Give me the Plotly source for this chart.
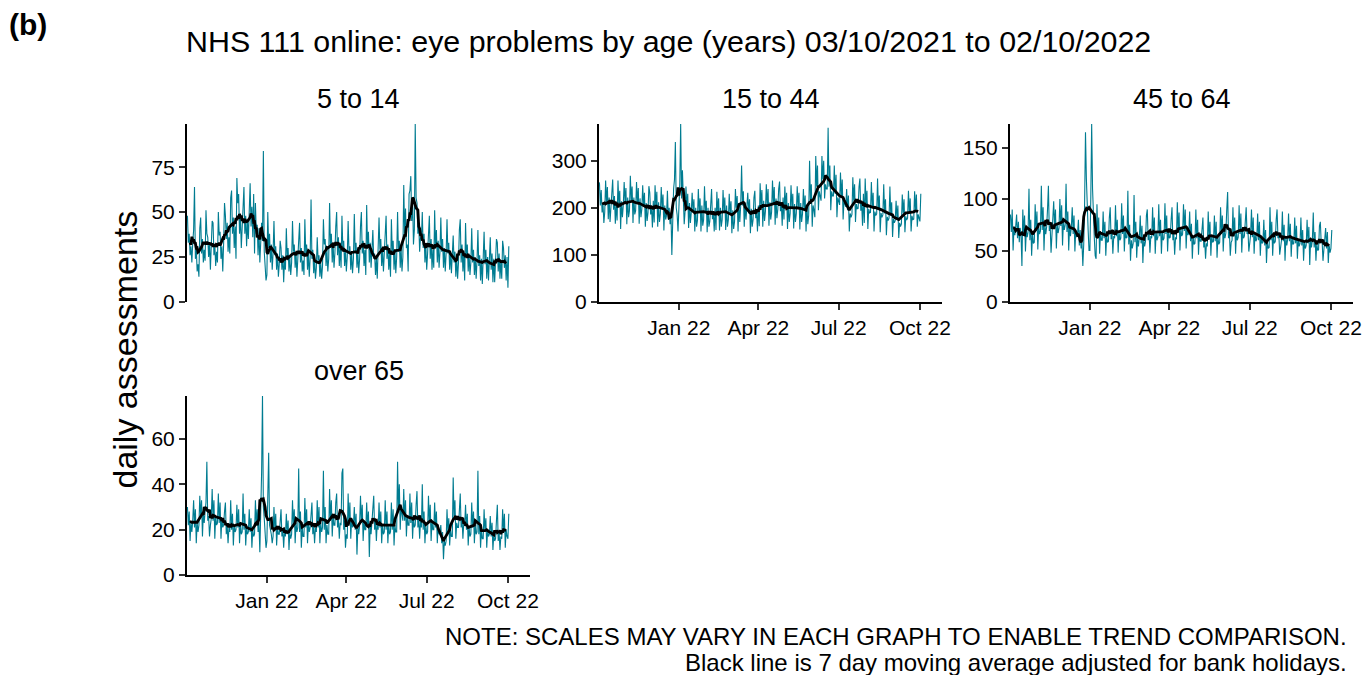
import pandas as pd
import plotly.graph_objects as go

# ---------------- data ----------------
start_date = "2021-10-03"
end_date = "2022-10-02"
tick_dates = ["2022-01-01", "2022-04-01", "2022-07-01", "2022-10-01"]
tick_text = ["Jan 22", "Apr 22", "Jul 22", "Oct 22"]
panel_titles = ["5 to 14", "15 to 44", "45 to 64", "over 65"]

age_5_14 = [
    48, 33, 38, 26, 31, 22, 33,
    40, 64, 24, 30, 17, 21, 14,
    41, 47, 27, 35, 22, 29, 23,
    51, 38, 36, 25, 33, 18, 30,
    45, 44, 26, 32, 20, 28, 22,
    50, 37, 39, 24, 31, 17, 33,
    55, 48, 35, 44, 28, 36, 27,
    58, 62, 38, 47, 30, 42, 24,
    69, 55, 60, 38, 48, 30, 43,
    54, 64, 38, 48, 31, 45, 35,
    52, 66, 42, 53, 36, 60, 27,
    55, 38, 43, 26, 41, 22, 34,
    44, 34, 84, 28, 21, 12, 15,
    50, 30, 38, 22, 32, 18, 27,
    45, 26, 31, 18, 27, 14, 21,
    34, 30, 18, 26, 11, 24, 18,
    41, 25, 30, 17, 25, 15, 22,
    45, 28, 32, 19, 28, 14, 23,
    38, 44, 22, 30, 17, 23, 15,
    46, 27, 32, 18, 27, 14, 25,
    57, 24, 29, 16, 24, 13, 19,
    36, 23, 26, 14, 22, 13, 20,
    46, 32, 35, 20, 29, 17, 24,
    55, 30, 38, 22, 33, 19, 27,
    42, 50, 26, 36, 20, 31, 19,
    48, 30, 34, 20, 29, 17, 25,
    45, 28, 31, 18, 27, 16, 24,
    49, 27, 33, 19, 28, 16, 24,
    42, 50, 27, 34, 20, 29, 15,
    54, 30, 39, 22, 33, 19, 27,
    40, 24, 27, 15, 24, 13, 25,
    47, 29, 35, 20, 29, 17, 26,
    40, 48, 24, 32, 18, 27, 14,
    46, 28, 34, 18, 29, 16, 25,
    50, 28, 34, 19, 30, 17, 25,
    65, 38, 52, 30, 32, 17, 60,
    62, 70, 45, 58, 32, 40, 99,
    58, 55, 38, 44, 28, 36, 35,
    50, 30, 38, 22, 32, 18, 27,
    44, 48, 24, 35, 18, 29, 19,
    51, 30, 40, 22, 34, 19, 28,
    47, 28, 35, 19, 30, 17, 27,
    46, 27, 33, 18, 28, 16, 28,
    37, 22, 28, 14, 25, 13, 22,
    40, 46, 22, 32, 17, 27, 12,
    44, 25, 32, 17, 27, 15, 22,
    41, 22, 29, 15, 25, 13, 23,
    40, 20, 26, 12, 24, 10, 22,
    39, 21, 29, 13, 25, 12, 22,
    36, 18, 27, 11, 24, 11, 20,
    35, 33, 17, 27, 13, 23, 13,
    34, 30, 19, 26, 12, 25, 8,
    31,
]

age_15_44 = [
    254, 205, 238, 190, 210, 168, 191,
    258, 212, 244, 176, 222, 170, 202,
    240, 260, 196, 225, 166, 210, 173,
    258, 208, 236, 155, 214, 180, 205,
    255, 212, 242, 165, 222, 180, 194,
    268, 215, 245, 168, 222, 186, 194,
    255, 210, 242, 166, 220, 180, 197,
    248, 202, 232, 160, 210, 172, 190,
    246, 232, 186, 201, 158, 215, 169,
    248, 203, 234, 160, 212, 170, 187,
    244, 198, 228, 152, 205, 175, 184,
    236, 175, 200, 165, 190, 100, 194,
    240, 260, 340, 200, 185, 150, 200,
    250, 378, 220, 280, 195, 165, 192,
    245, 200, 230, 157, 210, 168, 190,
    232, 190, 218, 150, 200, 160, 173,
    240, 192, 220, 150, 205, 162, 175,
    246, 190, 215, 148, 200, 160, 171,
    216, 240, 176, 188, 150, 200, 153,
    234, 190, 220, 152, 200, 160, 174,
    238, 192, 222, 153, 205, 160, 174,
    230, 185, 214, 146, 195, 155, 170,
    240, 200, 225, 150, 210, 170, 205,
    290, 205, 235, 160, 210, 175, 195,
    232, 188, 218, 146, 198, 160, 174,
    222, 236, 178, 192, 150, 205, 161,
    252, 206, 238, 160, 215, 172, 192,
    250, 205, 240, 162, 212, 175, 191,
    258, 210, 244, 164, 220, 178, 196,
    240, 256, 193, 208, 162, 222, 175,
    245, 200, 232, 155, 210, 170, 188,
    248, 200, 230, 156, 208, 170, 188,
    246, 201, 232, 154, 210, 170, 187,
    240, 195, 226, 150, 205, 165, 184,
    300, 215, 250, 160, 205, 195, 180,
    310, 245, 290, 195, 235, 225, 215,
    310, 260, 300, 220, 250, 240, 240,
    370, 245, 290, 195, 235, 225, 225,
    290, 230, 270, 180, 222, 212, 206,
    275, 222, 260, 175, 215, 205, 202,
    240, 195, 226, 150, 188, 180, 186,
    265, 215, 250, 170, 208, 198, 199,
    244, 262, 194, 210, 162, 230, 168,
    262, 205, 236, 155, 198, 189, 190,
    255, 200, 232, 150, 192, 184, 187,
    262, 196, 226, 148, 189, 180, 185,
    250, 188, 218, 142, 181, 173, 178,
    245, 183, 212, 138, 176, 168, 173,
    215, 175, 205, 136, 168, 160, 166,
    228, 188, 218, 148, 182, 174, 178,
    236, 190, 220, 150, 183, 175, 176,
    235, 193, 228, 160, 186, 178, 171,
    230,
]

age_45_64 = [
    85, 68, 90, 50, 72, 65, 74,
    85, 62, 78, 58, 72, 65, 35,
    90, 66, 84, 49, 70, 63, 68,
    110, 60, 80, 45, 66, 57, 58,
    95, 69, 88, 51, 73, 66, 69,
    113, 70, 92, 50, 75, 66, 73,
    90, 113, 69, 74, 48, 65, 73,
    98, 71, 90, 52, 75, 67, 72,
    100, 74, 94, 55, 78, 70, 75,
    115, 68, 88, 50, 74, 64, 73,
    92, 66, 84, 49, 70, 63, 66,
    80, 55, 70, 52, 58, 35, 56,
    95, 165, 120, 80, 70, 50, 50,
    100, 173, 110, 70, 62, 45, 42,
    95, 64, 82, 47, 68, 60, 60,
    88, 62, 78, 45, 65, 58, 59,
    82, 92, 61, 68, 47, 64, 62,
    94, 64, 80, 48, 68, 60, 62,
    96, 66, 84, 49, 70, 62, 63,
    108, 56, 75, 40, 60, 52, 57,
    104, 58, 78, 43, 62, 54, 63,
    84, 57, 74, 38, 61, 54, 59,
    84, 90, 60, 68, 48, 64, 62,
    92, 64, 82, 47, 68, 60, 63,
    95, 64, 80, 47, 68, 60, 62,
    96, 66, 84, 49, 70, 62, 63,
    80, 92, 60, 67, 46, 63, 61,
    97, 68, 87, 50, 72, 64, 66,
    95, 69, 90, 52, 73, 65, 67,
    88, 59, 76, 42, 63, 56, 57,
    90, 62, 80, 46, 66, 59, 59,
    72, 82, 53, 60, 42, 57, 54,
    88, 62, 78, 45, 65, 58, 59,
    84, 59, 78, 43, 63, 56, 58,
    92, 66, 84, 49, 70, 62, 67,
    90, 107, 62, 68, 45, 58, 60,
    92, 64, 82, 47, 68, 60, 63,
    94, 66, 86, 48, 70, 62, 64,
    86, 92, 66, 70, 49, 62, 65,
    90, 63, 82, 47, 67, 59, 61,
    86, 60, 78, 45, 64, 57, 58,
    80, 55, 70, 38, 58, 52, 53,
    92, 60, 78, 45, 64, 57, 59,
    80, 90, 62, 66, 46, 58, 60,
    88, 59, 75, 40, 63, 55, 61,
    86, 59, 76, 44, 63, 56, 57,
    82, 57, 74, 42, 61, 54, 57,
    82, 55, 70, 40, 59, 52, 55,
    80, 57, 73, 36, 60, 53, 61,
    87, 53, 68, 40, 57, 50, 51,
    74, 78, 57, 60, 40, 53, 58,
    72, 52, 68, 38, 55, 48, 52,
    70,
]

age_over_65 = [
    30, 22, 28, 15, 23, 19, 24,
    33, 21, 29, 14, 23, 19, 22,
    35, 26, 33, 17, 27, 23, 28,
    32, 50, 24, 26, 17, 22, 25,
    38, 24, 33, 16, 26, 22, 23,
    36, 23, 32, 16, 25, 21, 22,
    28, 32, 18, 22, 14, 21, 19,
    33, 20, 27, 13, 22, 19, 20,
    31, 21, 29, 14, 22, 18, 19,
    36, 20, 27, 13, 21, 18, 19,
    29, 19, 25, 12, 20, 17, 18,
    33, 22, 29, 19, 23, 10, 25,
    45, 79, 30, 25, 18, 12, 15,
    30, 54, 22, 20, 18, 14, 17,
    30, 20, 27, 13, 21, 18, 18,
    25, 29, 17, 20, 12, 20, 17,
    27, 18, 24, 11, 19, 16, 18,
    33, 22, 29, 14, 23, 19, 21,
    47, 19, 28, 12, 21, 17, 17,
    34, 21, 29, 14, 23, 19, 21,
    28, 32, 18, 22, 14, 21, 19,
    33, 21, 30, 14, 23, 19, 21,
    46, 20, 30, 14, 22, 18, 18,
    38, 24, 33, 17, 26, 22, 22,
    32, 36, 21, 25, 16, 23, 22,
    45, 47, 20, 24, 12, 18, 16,
    36, 23, 32, 16, 25, 21, 22,
    30, 20, 27, 9, 21, 18, 22,
    35, 23, 31, 15, 24, 20, 20,
    32, 21, 28, 8, 22, 18, 25,
    31, 35, 20, 24, 15, 23, 20,
    32, 21, 28, 14, 22, 18, 19,
    33, 20, 28, 14, 22, 18, 19,
    32, 20, 29, 13, 22, 19, 19,
    50, 28, 40, 20, 30, 25, 24,
    38, 24, 33, 17, 26, 22, 22,
    36, 23, 32, 16, 25, 21, 22,
    31, 37, 21, 25, 16, 24, 21,
    40, 20, 28, 14, 22, 18, 19,
    35, 23, 31, 15, 24, 20, 20,
    32, 21, 28, 14, 22, 18, 19,
    22, 14, 19, 7, 15, 13, 15,
    29, 19, 25, 13, 20, 17, 17,
    43, 25, 33, 16, 23, 21, 21,
    32, 36, 21, 25, 16, 23, 22,
    31, 20, 27, 13, 21, 17, 18,
    32, 21, 28, 14, 22, 18, 19,
    46, 18, 26, 12, 20, 16, 16,
    29, 19, 25, 12, 20, 17, 18,
    26, 17, 23, 11, 18, 15, 16,
    24, 31, 15, 19, 11, 17, 16,
    29, 19, 27, 12, 20, 17, 16,
    27,
]

y_dticks = [25, 100, 50, 20]

# ---------------- figure ----------------
W, H = 1363, 675
TEAL = "#007C91"
FONT = "Liberation Sans, Arial, sans-serif"

dates = pd.date_range(start_date, end_date, freq="D")
series_list = [age_5_14, age_15_44, age_45_64, age_over_65]

# panel boxes in pixels: (left, right, top, bottom)
boxes = [(187, 530, 124, 302), (599, 942, 124, 302),
         (1010, 1353, 124, 302), (187, 530, 396, 575)]
show_x = [False, True, True, True]


def fx(p):
    return p / W


def fy(p):
    return 1 - p / H


fig = go.Figure()
layout = dict(
    width=W, height=H, autosize=False,
    margin=dict(l=0, r=0, t=0, b=0, pad=0, autoexpand=False),
    paper_bgcolor="white", plot_bgcolor="white",
    showlegend=False,
    font=dict(family=FONT, color="black"),
)

annotations = []
for i, (vals, box) in enumerate(zip(series_list, boxes)):
    n = i + 1
    xa = "x" if n == 1 else f"x{n}"
    ya = "y" if n == 1 else f"y{n}"
    s = pd.Series(vals, index=dates)
    ma = s.rolling(7, center=True).mean()
    fig.add_trace(go.Scatter(x=dates, y=s.values, mode="lines",
                             line=dict(color=TEAL, width=1.1),
                             xaxis=xa, yaxis=ya, hoverinfo="skip"))
    fig.add_trace(go.Scatter(x=dates, y=ma.values, mode="lines",
                             line=dict(color="black", width=2.8),
                             xaxis=xa, yaxis=ya, hoverinfo="skip"))
    l, r, t, b = box
    xkey = "xaxis" if n == 1 else f"xaxis{n}"
    ykey = "yaxis" if n == 1 else f"yaxis{n}"
    layout[xkey] = dict(
        domain=[fx(l), fx(r)], anchor=ya, automargin=False,
        range=["2021-10-02 12:00", "2022-10-26"],
        tickvals=tick_dates, ticktext=tick_text,
        showticklabels=show_x[i], showline=show_x[i],
        linecolor="black", linewidth=2,
        ticks="outside" if show_x[i] else "", ticklen=6, tickwidth=2,
        tickcolor="#333333", showgrid=False, zeroline=False,
        tickfont=dict(size=21, color="black"),
    )
    layout[ykey] = dict(
        domain=[fy(b), fy(t)], anchor=xa, automargin=False,
        range=[0, max(vals)],
        dtick=y_dticks[i], tick0=0,
        showline=True, linecolor="black", linewidth=2,
        ticks="outside", ticklen=6, tickwidth=2, tickcolor="#333333",
        showgrid=False, zeroline=False,
        tickfont=dict(size=21, color="black"),
    )
    annotations.append(dict(
        text=panel_titles[i], x=fx((l + r) / 2), y=fy(t - 25),
        xref="paper", yref="paper", xanchor="center", yanchor="middle",
        showarrow=False, font=dict(size=27, color="black", family=FONT)))

annotations += [
    dict(text="<b>(b)</b>", x=fx(7), y=fy(25), xref="paper", yref="paper",
         xanchor="left", yanchor="middle", showarrow=False,
         font=dict(size=30, color="black", family=FONT)),
    dict(text="NHS 111 online: eye problems by age (years) 03/10/2021 to 02/10/2022",
         x=fx(184), y=fy(41), xref="paper", yref="paper",
         xanchor="left", yanchor="middle", showarrow=False,
         font=dict(size=30.4, color="black", family=FONT)),
    dict(text="daily assessments", x=fx(124), y=fy(349.5), xref="paper", yref="paper",
         xanchor="center", yanchor="middle", textangle=-90, showarrow=False,
         font=dict(size=34, color="black", family=FONT)),
    dict(text="NOTE: SCALES MAY VARY IN EACH GRAPH TO ENABLE TREND COMPARISON.",
         x=fx(1349), y=fy(636), xref="paper", yref="paper",
         xanchor="right", yanchor="middle", showarrow=False,
         font=dict(size=24, color="black", family=FONT)),
    dict(text="Black line is 7 day moving average adjusted for bank holidays.",
         x=fx(1349), y=fy(662), xref="paper", yref="paper",
         xanchor="right", yanchor="middle", showarrow=False,
         font=dict(size=24, color="black", family=FONT)),
]
layout["annotations"] = annotations
fig.update_layout(**layout)
fig.write_html(
    "out.html",
    config={"displayModeBar": False, "responsive": False},
    post_script=(
        "document.documentElement.style.margin='0px';"
        "document.body.style.margin='0px';"
        "document.documentElement.style.overflow='hidden';"
        "document.body.style.overflow='hidden';"
    ),
)
